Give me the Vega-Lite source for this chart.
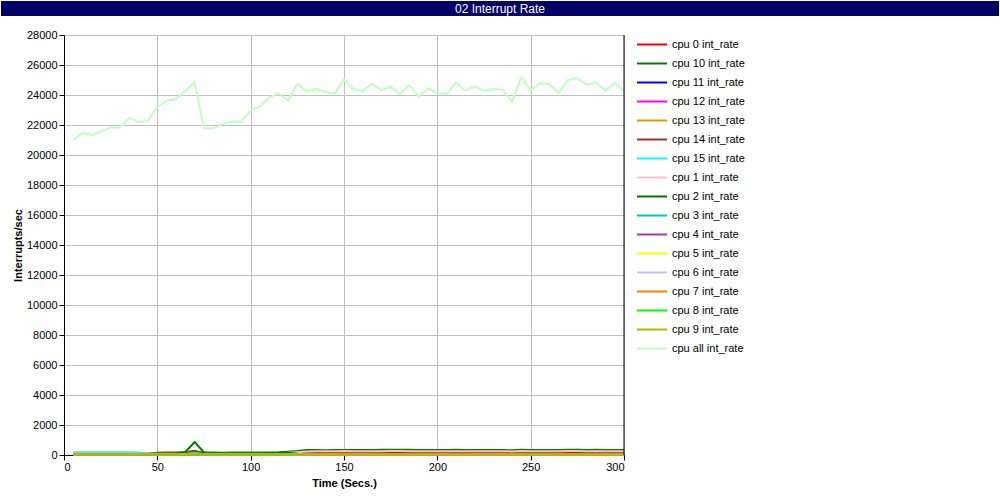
{
"$schema": "https://vega.github.io/schema/vega-lite/v6.json",
"padding": {"left": 1, "top": 1, "right": 1, "bottom": 1},
"background": "white",
"config": {"view": {"stroke": null}, "font": "Liberation Sans",
 "axis": {"domainColor": "black", "tickColor": "black", "tickSize": 5, "labelFont": "Liberation Sans", "labelFontSize": 11, "labelColor": "black", "titleFont": "Liberation Sans", "titleFontSize": 11, "titleFontWeight": "bold", "titleColor": "black", "gridColor": "#c0c0c0", "gridOpacity": 1}},
"datasets": {"d": [
{"t":5,"call":21000,"c0":50,"c10":40,"c11":30,"c12":25,"c13":30,"c14":20,"c15":170,"c1":70,"c2":40,"c3":150,"c4":30,"c5":25,"c6":120,"c7":30,"c8":35,"c9":30},
{"t":10,"call":21490,"c0":52,"c10":45,"c11":28,"c12":30,"c13":32,"c14":25,"c15":175,"c1":72,"c2":42,"c3":145,"c4":28,"c5":30,"c6":118,"c7":32,"c8":30,"c9":28},
{"t":15,"call":21290,"c0":48,"c10":42,"c11":32,"c12":28,"c13":28,"c14":22,"c15":168,"c1":68,"c2":38,"c3":152,"c4":32,"c5":28,"c6":122,"c7":28,"c8":33,"c9":32},
{"t":20,"call":21600,"c0":50,"c10":40,"c11":30,"c12":30,"c13":30,"c14":24,"c15":172,"c1":70,"c2":40,"c3":148,"c4":30,"c5":26,"c6":120,"c7":30,"c8":30,"c9":30},
{"t":25,"call":21840,"c0":53,"c10":44,"c11":29,"c12":27,"c13":31,"c14":21,"c15":170,"c1":74,"c2":43,"c3":150,"c4":29,"c5":29,"c6":119,"c7":31,"c8":34,"c9":29},
{"t":30,"call":21840,"c0":49,"c10":41,"c11":31,"c12":29,"c13":29,"c14":23,"c15":166,"c1":69,"c2":39,"c3":147,"c4":31,"c5":27,"c6":121,"c7":29,"c8":31,"c9":31},
{"t":35,"call":22470,"c0":51,"c10":43,"c11":30,"c12":31,"c13":30,"c14":22,"c15":171,"c1":71,"c2":41,"c3":151,"c4":30,"c5":28,"c6":117,"c7":30,"c8":32,"c9":30},
{"t":40,"call":22180,"c0":50,"c10":42,"c11":30,"c12":30,"c13":30,"c14":25,"c15":160,"c1":70,"c2":40,"c3":140,"c4":30,"c5":30,"c6":115,"c7":30,"c8":30,"c9":30},
{"t":45,"call":22290,"c0":90,"c10":70,"c11":40,"c12":35,"c13":38,"c14":30,"c15":100,"c1":85,"c2":70,"c3":90,"c4":35,"c5":30,"c6":80,"c7":35,"c8":32,"c9":30},
{"t":50,"call":23180,"c0":150,"c10":120,"c11":45,"c12":40,"c13":42,"c14":35,"c15":50,"c1":110,"c2":110,"c3":50,"c4":38,"c5":30,"c6":55,"c7":38,"c8":35,"c9":30},
{"t":55,"call":23620,"c0":160,"c10":130,"c11":46,"c12":38,"c13":43,"c14":36,"c15":48,"c1":115,"c2":115,"c3":52,"c4":37,"c5":31,"c6":57,"c7":37,"c8":34,"c9":31},
{"t":60,"call":23730,"c0":165,"c10":140,"c11":45,"c12":40,"c13":42,"c14":35,"c15":50,"c1":118,"c2":120,"c3":50,"c4":38,"c5":30,"c6":55,"c7":38,"c8":35,"c9":30},
{"t":65,"call":24290,"c0":180,"c10":200,"c11":55,"c12":45,"c13":50,"c14":40,"c15":60,"c1":130,"c2":150,"c3":70,"c4":42,"c5":35,"c6":65,"c7":45,"c8":40,"c9":35},
{"t":70,"call":24840,"c0":280,"c10":860,"c11":90,"c12":70,"c13":80,"c14":60,"c15":120,"c1":200,"c2":220,"c3":160,"c4":65,"c5":50,"c6":100,"c7":70,"c8":60,"c9":50},
{"t":75,"call":21780,"c0":100,"c10":170,"c11":50,"c12":40,"c13":45,"c14":35,"c15":45,"c1":100,"c2":130,"c3":55,"c4":38,"c5":30,"c6":55,"c7":40,"c8":35,"c9":30},
{"t":80,"call":21780,"c0":100,"c10":160,"c11":50,"c12":41,"c13":46,"c14":35,"c15":45,"c1":100,"c2":120,"c3":55,"c4":39,"c5":31,"c6":56,"c7":41,"c8":36,"c9":31},
{"t":85,"call":22070,"c0":98,"c10":158,"c11":49,"c12":40,"c13":45,"c14":34,"c15":46,"c1":98,"c2":118,"c3":56,"c4":38,"c5":30,"c6":55,"c7":40,"c8":35,"c9":30},
{"t":90,"call":22240,"c0":100,"c10":160,"c11":50,"c12":41,"c13":46,"c14":35,"c15":45,"c1":100,"c2":120,"c3":55,"c4":39,"c5":31,"c6":56,"c7":41,"c8":36,"c9":31},
{"t":95,"call":22200,"c0":102,"c10":162,"c11":51,"c12":42,"c13":46,"c14":36,"c15":47,"c1":102,"c2":122,"c3":56,"c4":40,"c5":32,"c6":57,"c7":42,"c8":37,"c9":32},
{"t":100,"call":23000,"c0":100,"c10":160,"c11":50,"c12":41,"c13":46,"c14":35,"c15":45,"c1":100,"c2":120,"c3":55,"c4":39,"c5":31,"c6":56,"c7":41,"c8":36,"c9":31},
{"t":105,"call":23220,"c0":105,"c10":165,"c11":51,"c12":42,"c13":47,"c14":36,"c15":46,"c1":105,"c2":125,"c3":56,"c4":40,"c5":32,"c6":57,"c7":42,"c8":37,"c9":32},
{"t":110,"call":23840,"c0":115,"c10":170,"c11":50,"c12":40,"c13":45,"c14":34,"c15":45,"c1":115,"c2":130,"c3":54,"c4":38,"c5":30,"c6":55,"c7":40,"c8":35,"c9":30},
{"t":115,"call":24110,"c0":130,"c10":185,"c11":48,"c12":38,"c13":43,"c14":32,"c15":45,"c1":130,"c2":140,"c3":50,"c4":36,"c5":28,"c6":53,"c7":38,"c8":33,"c9":28},
{"t":120,"call":23620,"c0":150,"c10":220,"c11":45,"c12":35,"c13":40,"c14":30,"c15":45,"c1":150,"c2":150,"c3":45,"c4":33,"c5":25,"c6":52,"c7":35,"c8":30,"c9":25},
{"t":125,"call":24730,"c0":170,"c10":260,"c11":42,"c12":32,"c13":37,"c14":27,"c15":45,"c1":190,"c2":80,"c3":42,"c4":31,"c5":22,"c6":51,"c7":32,"c8":27,"c9":22},
{"t":130,"call":24240,"c0":185,"c10":330,"c11":40,"c12":30,"c13":35,"c14":25,"c15":45,"c1":240,"c2":60,"c3":40,"c4":30,"c5":20,"c6":50,"c7":30,"c8":25,"c9":20},
{"t":135,"call":24420,"c0":190,"c10":335,"c11":42,"c12":31,"c13":36,"c14":26,"c15":46,"c1":245,"c2":58,"c3":41,"c4":31,"c5":21,"c6":51,"c7":31,"c8":26,"c9":21},
{"t":140,"call":24200,"c0":188,"c10":325,"c11":39,"c12":29,"c13":34,"c14":24,"c15":44,"c1":250,"c2":62,"c3":39,"c4":29,"c5":19,"c6":49,"c7":29,"c8":24,"c9":19},
{"t":145,"call":24090,"c0":192,"c10":330,"c11":40,"c12":30,"c13":35,"c14":25,"c15":45,"c1":255,"c2":60,"c3":40,"c4":30,"c5":20,"c6":50,"c7":30,"c8":25,"c9":20},
{"t":150,"call":25040,"c0":195,"c10":340,"c11":42,"c12":32,"c13":37,"c14":27,"c15":47,"c1":260,"c2":64,"c3":42,"c4":32,"c5":22,"c6":52,"c7":32,"c8":27,"c9":22},
{"t":155,"call":24380,"c0":190,"c10":335,"c11":40,"c12":30,"c13":35,"c14":25,"c15":45,"c1":250,"c2":59,"c3":40,"c4":30,"c5":20,"c6":50,"c7":30,"c8":25,"c9":20},
{"t":160,"call":24270,"c0":186,"c10":330,"c11":39,"c12":29,"c13":34,"c14":24,"c15":44,"c1":245,"c2":57,"c3":39,"c4":29,"c5":19,"c6":49,"c7":29,"c8":24,"c9":19},
{"t":165,"call":24730,"c0":192,"c10":338,"c11":41,"c12":31,"c13":36,"c14":26,"c15":46,"c1":252,"c2":61,"c3":41,"c4":31,"c5":21,"c6":51,"c7":31,"c8":26,"c9":21},
{"t":170,"call":24330,"c0":194,"c10":342,"c11":42,"c12":32,"c13":37,"c14":27,"c15":47,"c1":256,"c2":63,"c3":42,"c4":32,"c5":22,"c6":52,"c7":32,"c8":27,"c9":22},
{"t":175,"call":24560,"c0":197,"c10":345,"c11":43,"c12":33,"c13":38,"c14":28,"c15":48,"c1":262,"c2":65,"c3":43,"c4":33,"c5":23,"c6":53,"c7":33,"c8":28,"c9":23},
{"t":180,"call":24070,"c0":200,"c10":350,"c11":44,"c12":34,"c13":39,"c14":29,"c15":49,"c1":265,"c2":66,"c3":44,"c4":34,"c5":24,"c6":54,"c7":34,"c8":29,"c9":24},
{"t":185,"call":24640,"c0":196,"c10":344,"c11":42,"c12":32,"c13":37,"c14":27,"c15":47,"c1":258,"c2":64,"c3":42,"c4":32,"c5":22,"c6":52,"c7":32,"c8":27,"c9":22},
{"t":190,"call":23890,"c0":190,"c10":335,"c11":40,"c12":30,"c13":35,"c14":25,"c15":45,"c1":250,"c2":60,"c3":40,"c4":30,"c5":20,"c6":50,"c7":30,"c8":25,"c9":20},
{"t":195,"call":24440,"c0":192,"c10":338,"c11":41,"c12":31,"c13":36,"c14":26,"c15":46,"c1":252,"c2":61,"c3":41,"c4":31,"c5":21,"c6":51,"c7":31,"c8":26,"c9":21},
{"t":200,"call":24110,"c0":189,"c10":332,"c11":40,"c12":30,"c13":35,"c14":25,"c15":45,"c1":248,"c2":59,"c3":40,"c4":30,"c5":20,"c6":50,"c7":30,"c8":25,"c9":20},
{"t":205,"call":24070,"c0":191,"c10":336,"c11":40,"c12":30,"c13":35,"c14":25,"c15":45,"c1":251,"c2":60,"c3":40,"c4":30,"c5":20,"c6":50,"c7":30,"c8":25,"c9":20},
{"t":210,"call":24840,"c0":195,"c10":342,"c11":42,"c12":32,"c13":37,"c14":27,"c15":47,"c1":258,"c2":63,"c3":42,"c4":32,"c5":22,"c6":52,"c7":32,"c8":27,"c9":22},
{"t":215,"call":24290,"c0":193,"c10":339,"c11":41,"c12":31,"c13":36,"c14":26,"c15":46,"c1":255,"c2":62,"c3":41,"c4":31,"c5":21,"c6":51,"c7":31,"c8":26,"c9":21},
{"t":220,"call":24580,"c0":190,"c10":334,"c11":40,"c12":30,"c13":35,"c14":25,"c15":45,"c1":250,"c2":60,"c3":40,"c4":30,"c5":20,"c6":50,"c7":30,"c8":25,"c9":20},
{"t":225,"call":24290,"c0":187,"c10":328,"c11":39,"c12":29,"c13":34,"c14":24,"c15":44,"c1":246,"c2":58,"c3":39,"c4":29,"c5":19,"c6":49,"c7":29,"c8":24,"c9":19},
{"t":230,"call":24400,"c0":190,"c10":333,"c11":40,"c12":30,"c13":35,"c14":25,"c15":45,"c1":250,"c2":60,"c3":40,"c4":30,"c5":20,"c6":50,"c7":30,"c8":25,"c9":20},
{"t":235,"call":24360,"c0":188,"c10":330,"c11":39,"c12":29,"c13":34,"c14":24,"c15":44,"c1":248,"c2":59,"c3":39,"c4":29,"c5":19,"c6":49,"c7":29,"c8":24,"c9":19},
{"t":240,"call":23530,"c0":182,"c10":318,"c11":37,"c12":27,"c13":32,"c14":22,"c15":42,"c1":240,"c2":55,"c3":37,"c4":27,"c5":17,"c6":47,"c7":27,"c8":22,"c9":17},
{"t":245,"call":25180,"c0":198,"c10":352,"c11":44,"c12":34,"c13":39,"c14":29,"c15":49,"c1":266,"c2":66,"c3":44,"c4":34,"c5":24,"c6":54,"c7":34,"c8":29,"c9":24},
{"t":250,"call":24330,"c0":192,"c10":337,"c11":41,"c12":31,"c13":36,"c14":26,"c15":46,"c1":252,"c2":61,"c3":41,"c4":31,"c5":21,"c6":51,"c7":31,"c8":26,"c9":21},
{"t":255,"call":24780,"c0":195,"c10":341,"c11":42,"c12":32,"c13":37,"c14":27,"c15":47,"c1":257,"c2":63,"c3":42,"c4":32,"c5":22,"c6":52,"c7":32,"c8":27,"c9":22},
{"t":260,"call":24730,"c0":194,"c10":340,"c11":42,"c12":32,"c13":37,"c14":27,"c15":47,"c1":256,"c2":62,"c3":42,"c4":32,"c5":22,"c6":52,"c7":32,"c8":27,"c9":22},
{"t":265,"call":24130,"c0":188,"c10":331,"c11":39,"c12":29,"c13":34,"c14":24,"c15":44,"c1":248,"c2":59,"c3":39,"c4":29,"c5":19,"c6":49,"c7":29,"c8":24,"c9":19},
{"t":270,"call":25000,"c0":196,"c10":345,"c11":43,"c12":33,"c13":38,"c14":28,"c15":48,"c1":260,"c2":64,"c3":43,"c4":33,"c5":23,"c6":53,"c7":33,"c8":28,"c9":23},
{"t":275,"call":25110,"c0":197,"c10":347,"c11":43,"c12":33,"c13":38,"c14":28,"c15":48,"c1":262,"c2":65,"c3":43,"c4":33,"c5":23,"c6":53,"c7":33,"c8":28,"c9":23},
{"t":280,"call":24690,"c0":193,"c10":339,"c11":41,"c12":31,"c13":36,"c14":26,"c15":46,"c1":255,"c2":62,"c3":41,"c4":31,"c5":21,"c6":51,"c7":31,"c8":26,"c9":21},
{"t":285,"call":24840,"c0":195,"c10":342,"c11":42,"c12":32,"c13":37,"c14":27,"c15":47,"c1":258,"c2":63,"c3":42,"c4":32,"c5":22,"c6":52,"c7":32,"c8":27,"c9":22},
{"t":290,"call":24310,"c0":189,"c10":333,"c11":40,"c12":30,"c13":35,"c14":25,"c15":45,"c1":249,"c2":59,"c3":40,"c4":30,"c5":20,"c6":50,"c7":30,"c8":25,"c9":20},
{"t":295,"call":24800,"c0":194,"c10":341,"c11":42,"c12":32,"c13":37,"c14":27,"c15":47,"c1":257,"c2":63,"c3":42,"c4":32,"c5":22,"c6":52,"c7":32,"c8":27,"c9":22},
{"t":300,"call":24270,"c0":190,"c10":334,"c11":40,"c12":30,"c13":35,"c14":25,"c15":45,"c1":250,"c2":60,"c3":40,"c4":30,"c5":20,"c6":50,"c7":30,"c8":25,"c9":20}
]},
"spacing": 13,
"resolve": {"legend": {"color": "independent"}, "scale": {"color": "independent"}},
"vconcat": [
 {"width": 998, "height": 15, "view": {"fill": "#000066", "stroke": null},
  "data": {"values": [{"title": "02 Interrupt Rate"}]},
  "mark": {"type": "text", "color": "white", "font": "Liberation Sans", "fontSize": 12, "baseline": "middle", "align": "center"},
  "encoding": {"text": {"field": "title"}}},
 {"spacing": 10,
  "resolve": {"legend": {"color": "independent"}, "scale": {"color": "independent"}},
  "hconcat": [
  {"width": 1, "height": 1, "data": {"values": [{"a": ""}]}, "mark": {"type": "text"}, "encoding": {"text": {"field": "a"}}},
  {"width": 560, "height": 420, "layer": [
   {"data": {"name": "d"},
    "transform": [{"fold": ["c0","c10","c11","c12","c13","c14","c15","c1","c2","c3","c4","c5","c6","c7","c8","c9","call"], "as": ["cpu","rate"]}],
    "mark": {"type": "line", "strokeWidth": 2},
    "encoding": {
     "x": {"field": "t", "type": "quantitative", "scale": {"domain": [0, 300], "nice": false}, "axis": {"values": [0,50,100,150,200,250,300], "title": "Time (Secs.)", "labelPadding": 1, "titlePadding": 5}},
     "y": {"field": "rate", "type": "quantitative", "scale": {"domain": [0, 28000], "nice": false}, "axis": {"values": [0,2000,4000,6000,8000,10000,12000,14000,16000,18000,20000,22000,24000,26000,28000], "format": "d", "title": "Interrupts/sec", "labelPadding": 2, "titlePadding": 3}},
     "color": {"field": "cpu", "type": "nominal", "sort": null,
      "scale": {"domain": ["c0","c10","c11","c12","c13","c14","c15","c1","c2","c3","c4","c5","c6","c7","c8","c9","call"],
                "range": ["#FF0000","#008000","#0000FF","#FF00FF","#E69A00","#A52A2A","#00FFFF","#FFC0CB","#007800","#00C8C8","#A040A0","#FFFF00","#C0C0FF","#FF8000","#00FF00","#C0B000","#C0FFC0"]},
      "legend": {"title": null, "orient": "none", "legendX": 572, "legendY": 0, "padding": 0, "symbolType": "stroke", "symbolSize": 900, "symbolStrokeWidth": 2, "labelFontSize": 11, "labelFont": "Liberation Sans", "labelColor": "black", "labelOffset": 4, "rowPadding": 0, "clipHeight": 19, "labelExpr": "'cpu ' + slice(datum.label, 1) + ' int_rate'"}}
    }},
   {"data": {"values": [{"x": 300}]}, "mark": {"type": "rule", "color": "black"}, "encoding": {"x": {"field": "x", "type": "quantitative"}}}
  ]}
 ]}
]
}
